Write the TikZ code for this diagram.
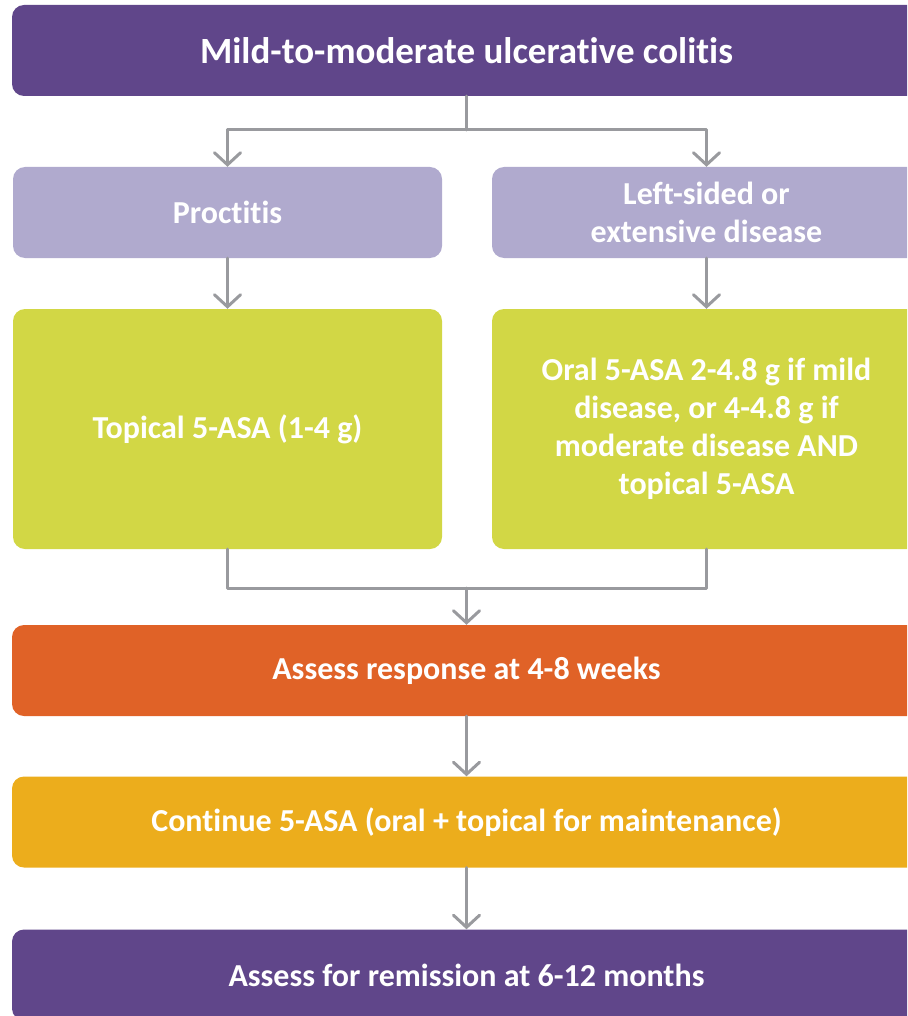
\documentclass[tikz,border=0pt]{standalone}
\usepackage{fontspec}
\setmainfont[Ligatures=NoCommon]{Carlito}
\usetikzlibrary{arrows.meta}

\definecolor{ucpurple}{RGB}{96,70,138}
\definecolor{uclavender}{RGB}{176,170,206}
\definecolor{ucgreen}{RGB}{210,215,69}
\definecolor{ucorange}{RGB}{224,98,39}
\definecolor{ucyellow}{RGB}{236,173,28}
\definecolor{ucgrey}{RGB}{153,154,158}

\begin{document}
\begin{tikzpicture}[
  x=1pt, y=-1pt,
  font=\bfseries\fontsize{32}{38}\selectfont,
  box/.style={rounded corners=12pt, inner sep=0pt, text=white, align=center, minimum height=91pt},
  widebox/.style={box, minimum width=909pt},
  halfbox/.style={box, minimum width=429pt},
  connector/.style={draw=ucgrey, line width=3pt, line cap=round, line join=round},
  arrow/.style={connector, -{Straight Barb[length=12pt, width=26pt, line cap=round]}}
]
  \useasboundingbox (0,0) rectangle (907,1016);
  \clip (0,0) rectangle (907,1016);

  \node[widebox, fill=ucpurple, font=\bfseries\fontsize{37}{40}\selectfont] (colitis) at (466.5,50.5) {Mild-to-moderate ulcerative colitis};

  \node[halfbox, fill=uclavender] (proctitis) at (227.5,212.5) {Proctitis};
  \node[halfbox, fill=uclavender] (leftsided) at (706.5,212.5) {Left-sided or\\extensive disease};

  \node[halfbox, fill=ucgreen, minimum height=240pt] (topical) at (227.5,429) {Topical 5-ASA (1-4 g)};
  \node[halfbox, fill=ucgreen, minimum height=240pt] (oral) at (706.5,429) {Oral 5-ASA 2-4.8 g if mild\\disease, or 4-4.8 g if\\moderate disease AND\\topical 5-ASA};

  \node[widebox, fill=ucorange] (assess) at (466.5,670.5) {Assess response at 4-8 weeks};
  \node[widebox, fill=ucyellow] (continue) at (466.5,822) {Continue 5-ASA (oral + topical for maintenance)};
  \node[widebox, fill=ucpurple] (remission) at (466.5,975) {Assess for remission at 6-12 months};

  % split below the first box, merge above the response check
  \coordinate (split) at (466.5,130);
  \coordinate (merge) at (466.5,588);

  \draw[connector] (colitis.south) -- (split);
  \draw[arrow] (split) -| (proctitis.north);
  \draw[arrow] (split) -| (leftsided.north);

  \draw[arrow] (proctitis.south) -- (topical.north);
  \draw[arrow] (leftsided.south) -- (oral.north);

  \draw[connector] (topical.south) |- (merge);
  \draw[connector] (oral.south) |- (merge);
  \draw[arrow] (merge) -- (assess.north);

  \draw[arrow] (assess.south) -- (continue.north);
  \draw[arrow] (continue.south) -- (remission.north);
\end{tikzpicture}
\end{document}
